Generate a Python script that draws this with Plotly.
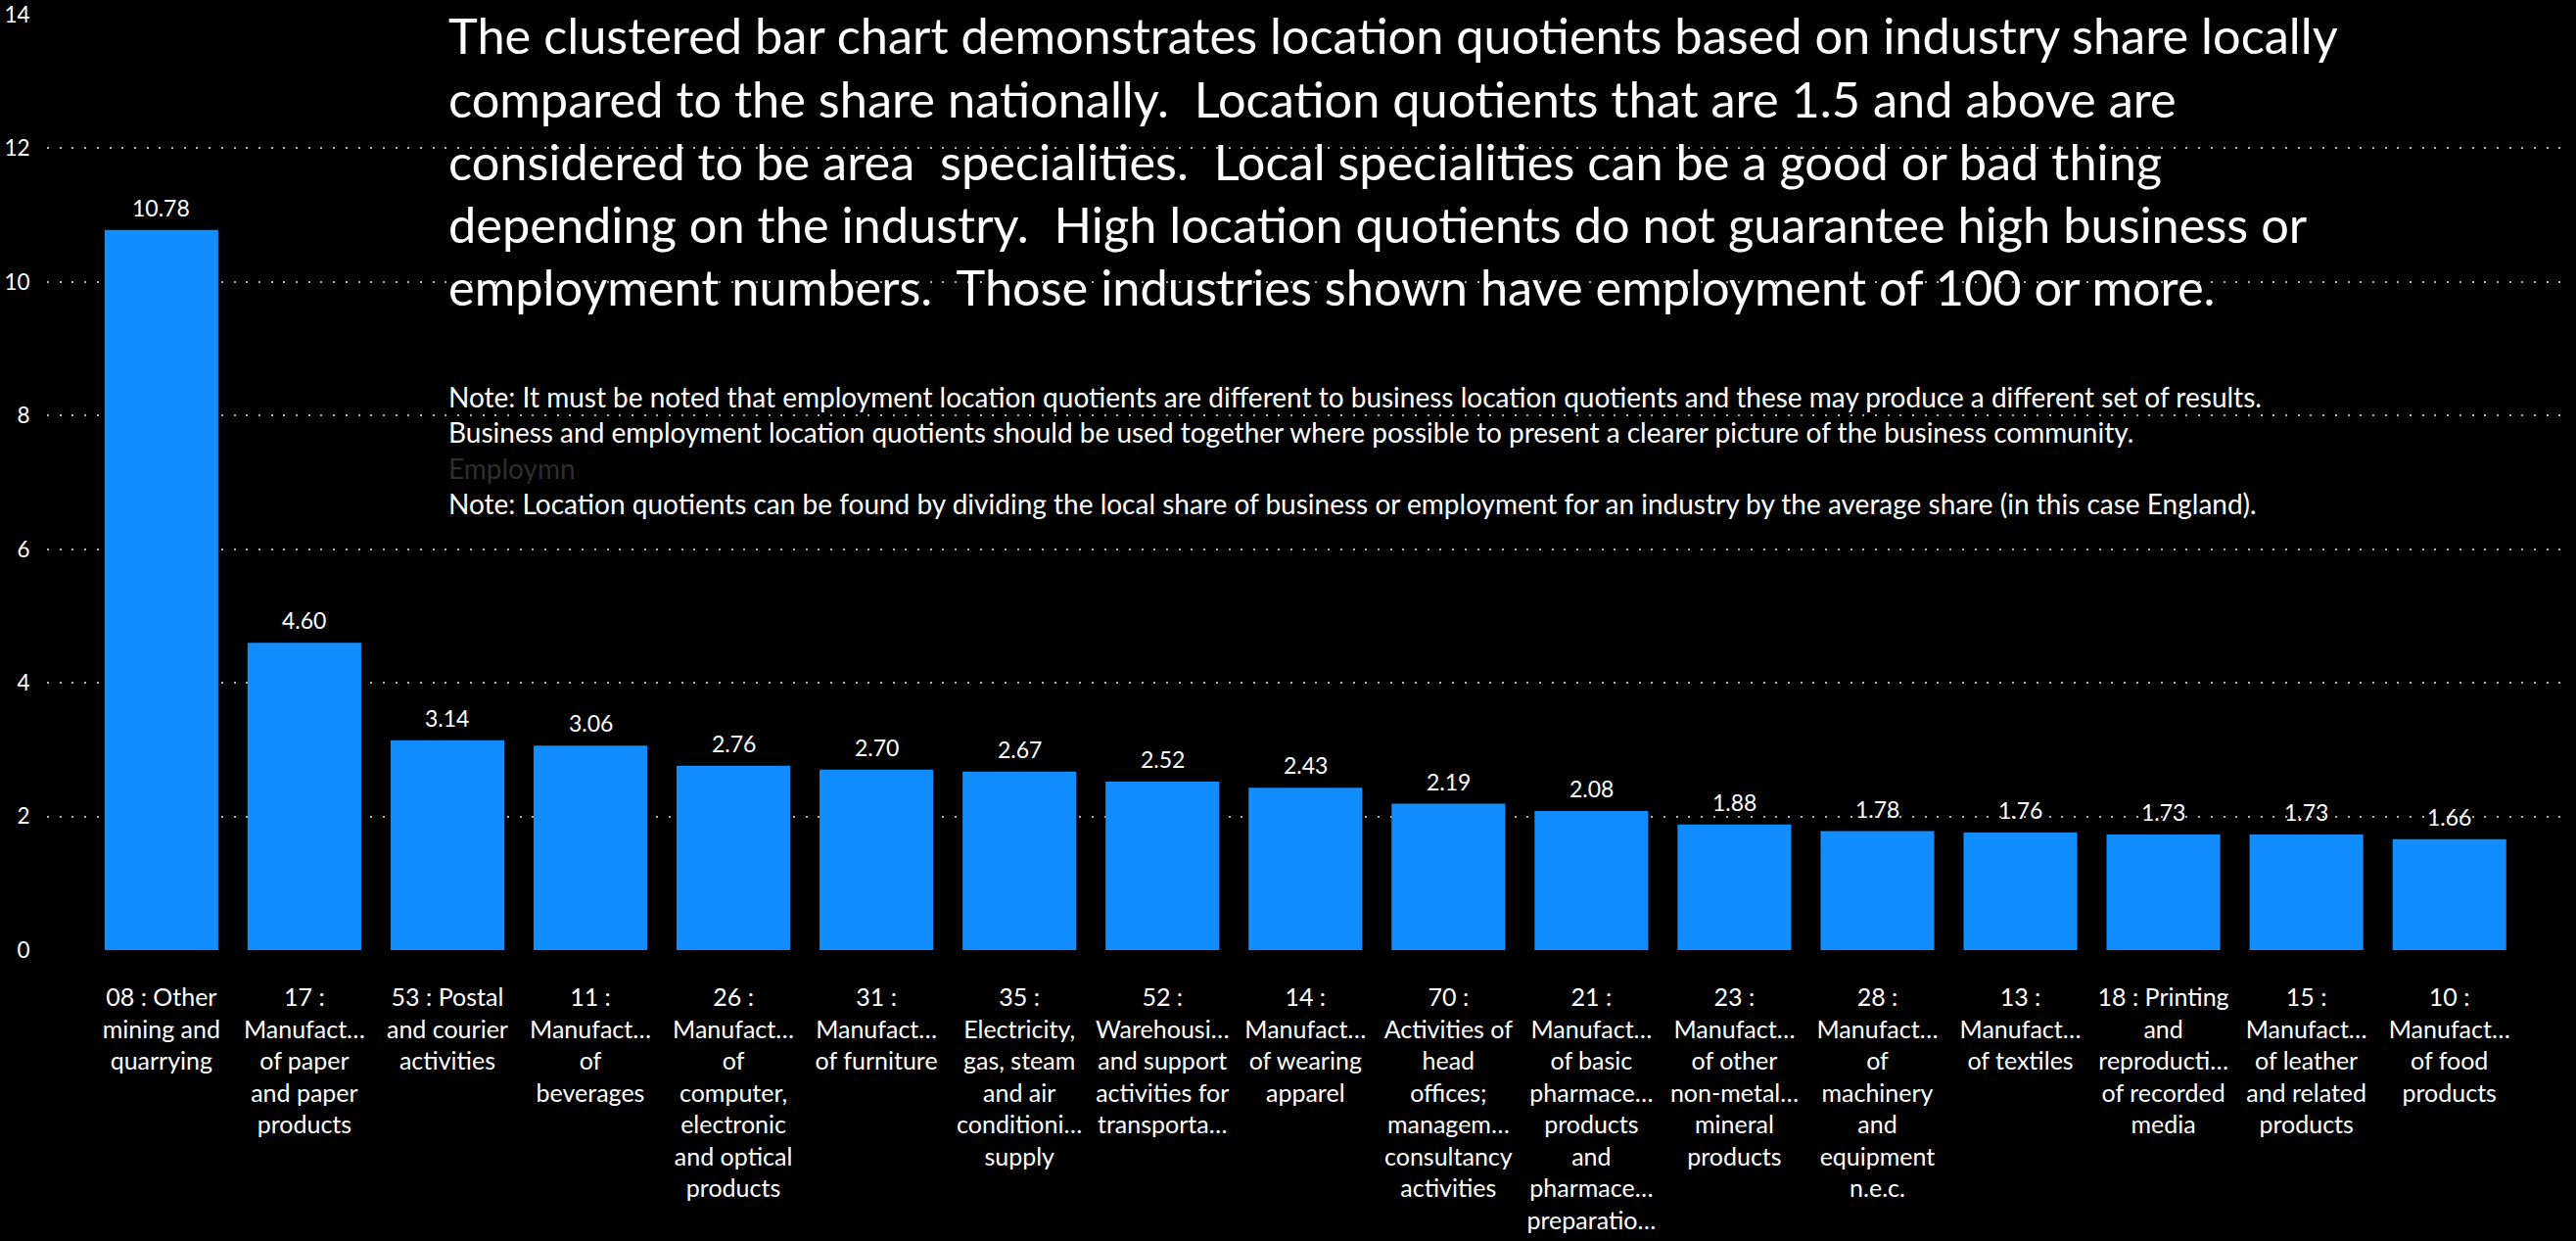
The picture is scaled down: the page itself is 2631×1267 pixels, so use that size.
import plotly.graph_objects as go

# ---- data ----
tick_labels = [
    "08 : Other<br>mining and<br>quarrying",
    "17 :<br>Manufact…<br>of paper<br>and paper<br>products",
    "53 : Postal<br>and courier<br>activities",
    "11 :<br>Manufact…<br>of<br>beverages",
    "26 :<br>Manufact…<br>of<br>computer,<br>electronic<br>and optical<br>products",
    "31 :<br>Manufact…<br>of furniture",
    "35 :<br>Electricity,<br>gas, steam<br>and air<br>conditioni…<br>supply",
    "52 :<br>Warehousi…<br>and support<br>activities for<br>transporta…",
    "14 :<br>Manufact…<br>of wearing<br>apparel",
    "70 :<br>Activities of<br>head<br>offices;<br>managem…<br>consultancy<br>activities",
    "21 :<br>Manufact…<br>of basic<br>pharmace…<br>products<br>and<br>pharmace…<br>preparatio…",
    "23 :<br>Manufact…<br>of other<br>non-metal…<br>mineral<br>products",
    "28 :<br>Manufact…<br>of<br>machinery<br>and<br>equipment<br>n.e.c.",
    "13 :<br>Manufact…<br>of textiles",
    "18 : Printing<br>and<br>reproducti…<br>of recorded<br>media",
    "15 :<br>Manufact…<br>of leather<br>and related<br>products",
    "10 :<br>Manufact…<br>of food<br>products",
]
location_quotients = [10.78, 4.60, 3.14, 3.06, 2.76, 2.70, 2.67, 2.52, 2.43,
                      2.19, 2.08, 1.88, 1.78, 1.76, 1.73, 1.73, 1.66]
y_ticks = [0, 2, 4, 6, 8, 10, 12, 14]

title_lines = [
    "The clustered bar chart demonstrates location quotients based on industry share locally",
    "compared to the share nationally.  Location quotients that are 1.5 and above are",
    "considered to be area  specialities.  Local specialities can be a good or bad thing",
    "depending on the industry.  High location quotients do not guarantee high business or",
    "employment numbers.  Those industries shown have employment of 100 or more.",
]
note_lines = [
    "Note: It must be noted that employment location quotients are different to business location quotients and these may produce a different set of results.",
    "Business and employment location quotients should be used together where possible to present a clearer picture of the business community.",
    "<span style='color:#2e2e2e'>Employmn</span>",
    "Note: Location quotients can be found by dividing the local share of business or employment for an industry by the average share (in this case England).",
]

FONT = "Segoe UI, Lato, sans-serif"
W, H = 2631, 1267
ML, MR, MT, MB = 48, 11, 15, 297
plot_h = H - MT - MB

fig = go.Figure()
fig.add_trace(go.Bar(
    x=list(range(len(tick_labels))),
    y=location_quotients,
    marker=dict(color="#118DFF", line=dict(width=0)),
    hoverinfo="x+y",
))

# value labels above bars
for i, v in enumerate(location_quotients):
    fig.add_annotation(
        x=i, y=v, xref="x", yref="y", text=f"{v:.2f}",
        showarrow=False, yanchor="middle", yshift=23,
        font=dict(family=FONT, size=23, color="#ffffff"),
    )

def px_to_paper_x(px):
    return (px - ML) / (W - ML - MR)

def px_to_paper_y(py):
    return 1 - (py - MT) / plot_h

TITLE_TOP, TITLE_STEP = 36, 64.2
for k, line in enumerate(title_lines):
    fig.add_annotation(
        xref="paper", yref="paper", x=px_to_paper_x(456),
        y=px_to_paper_y(TITLE_TOP + k * TITLE_STEP),
        xanchor="left", yanchor="middle", align="left", showarrow=False,
        text=line,
        font=dict(family=FONT, size=50.5, color="#ffffff"),
    )
fig.add_annotation(
    xref="paper", yref="paper", x=px_to_paper_x(456), y=px_to_paper_y(386),
    xanchor="left", yanchor="top", align="left", showarrow=False,
    text="<br>".join(note_lines),
    font=dict(family=FONT, size=28, color="#ffffff"),
)

fig.update_layout(
    width=W, height=H,
    margin=dict(l=ML, r=MR, t=MT, b=MB, pad=0, autoexpand=False),
    paper_bgcolor="#000000", plot_bgcolor="#000000",
    showlegend=False,
    bargap=0.205,
    font=dict(family=FONT, color="#ffffff"),
)
fig.update_xaxes(
    range=[-0.8, 16.81], automargin=False,
    tickmode="array", tickvals=list(range(len(tick_labels))), ticktext=tick_labels,
    tickangle=0,
    showgrid=False, zeroline=False, showline=False,
    ticks="outside", ticklen=26, tickcolor="rgba(0,0,0,0)",
    tickfont=dict(family=FONT, size=25, color="#ffffff"),
)
fig.update_yaxes(
    range=[0, 14], tickvals=y_ticks, automargin=False,
    ticklabeloverflow="allow",
    showgrid=True, gridcolor="#b0b0b0", gridwidth=1.6, griddash="2px,10.7px",
    zeroline=False, showline=False,
    ticks="outside", ticklen=12, tickcolor="rgba(0,0,0,0)",
    tickfont=dict(family=FONT, size=22.5, color="#ffffff"),
)

fig.write_html(
    "out.html",
    config={"displayModeBar": False},
    post_script="document.body.style.margin='0';document.body.style.overflow='hidden';",
)
